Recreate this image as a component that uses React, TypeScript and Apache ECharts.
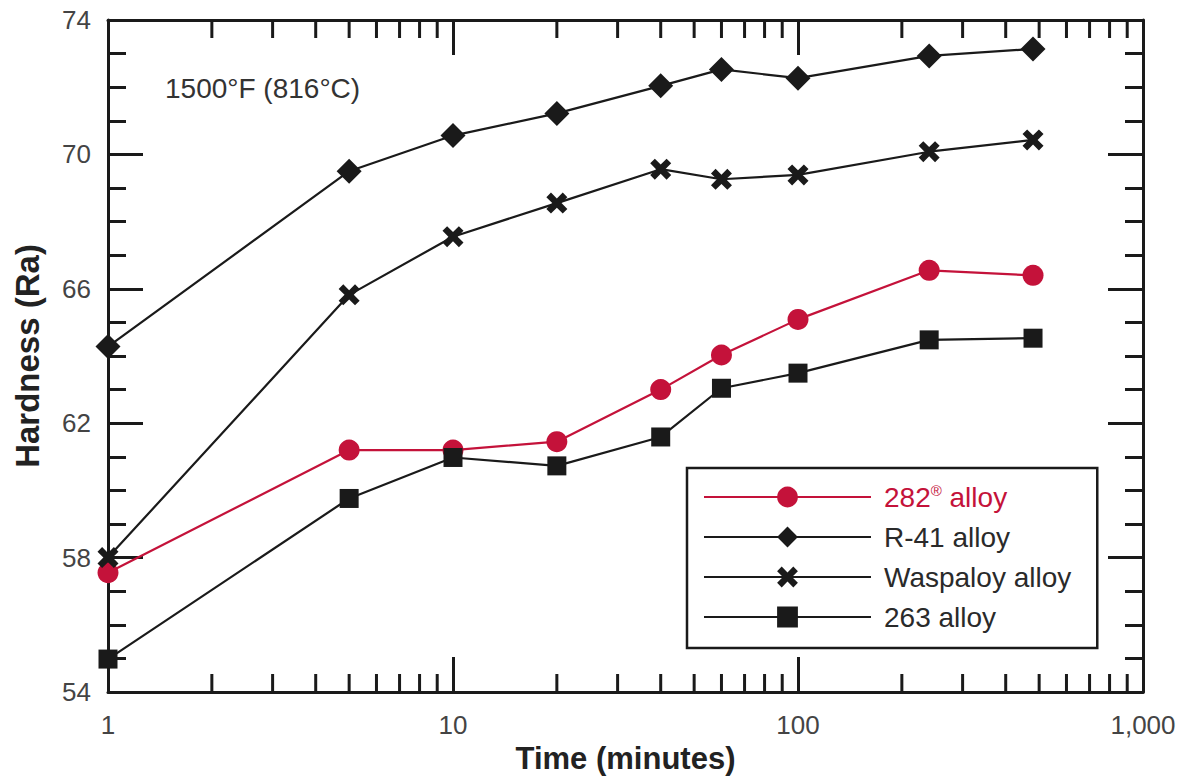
import React, { useEffect, useRef } from "react";
import * as echarts from "echarts";

const times = [1, 5, 10, 20, 40, 60, 100, 240, 480];
const alloy282 = [57.55, 61.2, 61.2, 61.45, 63.0, 64.03, 65.09, 66.55, 66.4];
const alloyR41 = [64.28, 69.5, 70.56, 71.22, 72.04, 72.53, 72.27, 72.93, 73.14];
const alloyWaspaloy = [58.0, 65.82, 67.55, 68.55, 69.56, 69.26, 69.39, 70.08, 70.43];
const alloy263 = [54.98, 59.76, 60.98, 60.73, 61.59, 63.04, 63.49, 64.48, 64.53];
const seriesNames = ["282® alloy", "R-41 alloy", "Waspaloy alloy", "263 alloy"];
const minorXTicks = [2, 3, 4, 5, 6, 7, 8, 9, 20, 30, 40, 50, 60, 70, 80, 90, 200, 300, 400, 500, 600, 700, 800, 900];
const annotation = "1500°F (816°C)";

const RED = "#C4123A";
const BLACK = "#1a1a1a";
const FONT = '"Liberation Sans", Arial, sans-serif';
const X_PATH =
  "path://M0,2.2 L2.2,0 L5,2.8 L7.8,0 L10,2.2 L7.2,5 L10,7.8 L7.8,10 L5,7.2 L2.2,10 L0,7.8 L2.8,5 Z";

export default function App() {
  const ref = useRef<HTMLDivElement>(null);

  useEffect(() => {
    if (!ref.current) return;
    const chart = echarts.init(ref.current, null, { renderer: "svg" });
    const pairs = (ys: number[]) => times.map((t, i) => [t, ys[i]]);
    const Y_MIN = 54;
    const Y_MAX = 74;

    const axisLine = { show: true, onZero: false, lineStyle: { color: BLACK, width: 3 } };
    const majorTick = { show: true, inside: true, length: 35, lineStyle: { color: BLACK, width: 3 } };
    const labelStyle = { color: "#444", fontSize: 26, fontFamily: FONT };

    const lineSeries = (name: string, ys: number[], symbol: string, size: number, color: string) => ({
      name,
      type: "line",
      data: pairs(ys),
      symbol,
      symbolSize: size,
      showSymbol: true,
      clip: false,
      lineStyle: { color, width: 2.2 },
      itemStyle: { color, opacity: 1 },
      emphasis: { disabled: true },
      z: 5,
    });

    chart.setOption({
      animation: false,
      backgroundColor: "#ffffff",
      grid: {
        left: 108,
        right: 44,
        top: 20,
        bottom: 84,
        containLabel: false,
        outerBoundsMode: "none",
      },
      xAxis: [
        {
          type: "log",
          logBase: 10,
          min: 1,
          max: 1000,
          position: "bottom",
          axisLine,
          axisTick: majorTick,
          splitLine: { show: false },
          axisLabel: {
            ...labelStyle,
            margin: 20,
            formatter: (v: number) => Math.round(v).toLocaleString("en-US"),
          },
          name: "Time (minutes)",
          nameLocation: "middle",
          nameGap: 45,
          nameTextStyle: { color: "#222", fontSize: 31, fontWeight: "bold", fontFamily: FONT },
        },
        {
          type: "log",
          logBase: 10,
          min: 1,
          max: 1000,
          position: "top",
          axisLine,
          axisTick: majorTick,
          splitLine: { show: false },
          axisLabel: { show: false },
        },
      ],
      yAxis: [
        {
          type: "value",
          min: Y_MIN,
          max: Y_MAX,
          interval: 4,
          position: "left",
          axisLine,
          axisTick: majorTick,
          minorTick: { show: true, splitNumber: 4, length: 18, lineStyle: { color: BLACK, width: 3 } },
          splitLine: { show: false },
          axisLabel: { ...labelStyle, margin: 17 },
          name: "Hardness (Ra)",
          nameLocation: "middle",
          nameRotate: 90,
          nameGap: 64,
          nameTextStyle: { color: "#222", fontSize: 33, fontWeight: "bold", fontFamily: FONT },
        },
        {
          type: "value",
          min: Y_MIN,
          max: Y_MAX,
          interval: 4,
          position: "right",
          axisLine,
          axisTick: majorTick,
          minorTick: { show: true, splitNumber: 4, length: 18, lineStyle: { color: BLACK, width: 3 } },
          splitLine: { show: false },
          axisLabel: { show: false },
        },
      ],
      legend: {
        orient: "vertical",
        left: 687,
        top: 468,
        itemWidth: 167,
        itemHeight: 26,
        itemGap: 12,
        padding: [15, 26, 17, 16],
        borderColor: BLACK,
        borderWidth: 2.5,
        backgroundColor: "#ffffff",
        selectedMode: false,
        textStyle: {
          color: "#2a2a2a",
          fontSize: 28,
          fontFamily: FONT,
          padding: [0, 0, 0, 8],
          rich: {
            sup: { fontSize: 15, verticalAlign: "top", fontFamily: FONT, padding: [0, 0, 9, 0] },
          },
        },
        formatter: (name: string) => name.replace("®", "{sup|®}"),
        data: [
          { name: seriesNames[0], textStyle: { color: RED } },
          { name: seriesNames[1] },
          { name: seriesNames[2] },
          { name: seriesNames[3] },
        ],
      },
      graphic: [
        {
          type: "text",
          left: 165,
          top: 74,
          style: { text: annotation, fontSize: 28, fill: "#333", fontFamily: FONT },
        },
      ],
      series: [
        {
          name: "minor-x-ticks",
          type: "custom",
          silent: true,
          data: minorXTicks.map((v) => [v, Y_MIN]),
          encode: { x: 0, y: 1 },
          clip: false,
          z: 3,
          renderItem: (params: any, api: any) => {
            const v = api.value(0);
            const b = api.coord([v, Y_MIN]);
            const t = api.coord([v, Y_MAX]);
            return {
              type: "group",
              children: [
                {
                  type: "line",
                  shape: { x1: b[0], y1: b[1], x2: b[0], y2: b[1] - 18 },
                  style: { stroke: BLACK, lineWidth: 3 },
                },
                {
                  type: "line",
                  shape: { x1: t[0], y1: t[1], x2: t[0], y2: t[1] + 18 },
                  style: { stroke: BLACK, lineWidth: 3 },
                },
              ],
            };
          },
        },
        lineSeries(seriesNames[0], alloy282, "circle", 21, RED),
        lineSeries(seriesNames[1], alloyR41, "diamond", 25, BLACK),
        lineSeries(seriesNames[2], alloyWaspaloy, X_PATH, 21, BLACK),
        lineSeries(seriesNames[3], alloy263, "rect", 19, BLACK),
      ],
    });

    return () => chart.dispose();
  }, []);

  return (
    <div
      ref={ref}
      style={{ position: "fixed", left: 0, top: 0, width: 1187, height: 776, background: "#fff" }}
    />
  );
}
